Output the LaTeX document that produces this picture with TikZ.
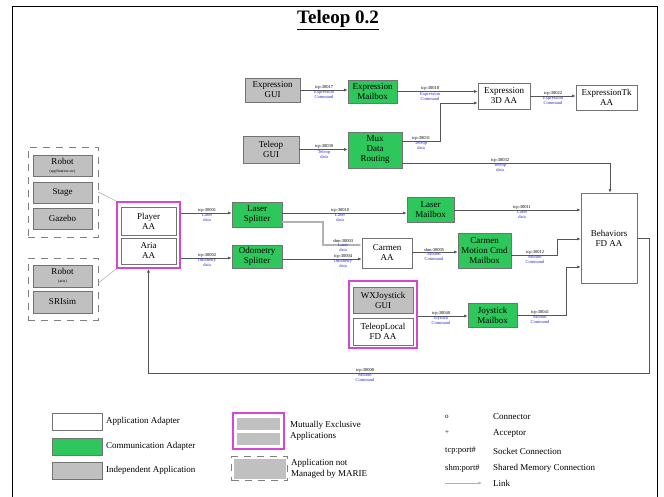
\documentclass[tikz,border=0pt]{standalone}
\usepackage{fontspec}
\setmainfont{Liberation Serif}
\usetikzlibrary{arrows.meta}
\definecolor{cgreen}{RGB}{46,199,92}
\definecolor{igray}{RGB}{192,192,192}
\definecolor{mxmag}{RGB}{214,70,214}
\definecolor{lblue}{RGB}{40,40,210}
\definecolor{lnk}{RGB}{85,85,85}
\newcommand\lnklab[5]{%
  \node[tcpt] (#1t) at (#2,#3) {#4};
  \node[bt] (#1b) at (#2,#3) {#5};}
\begin{document}
\begin{tikzpicture}[x=1pt,y=-1pt,
  box/.style={draw=black!55, line width=0.7pt, align=center,
    font=\fontsize{9}{10}\selectfont, inner sep=1pt},
  aa/.style={box, fill=white},
  ca/.style={box, fill=cgreen},
  ia/.style={box, fill=igray},
  mx/.style={draw=mxmag, line width=2.2pt, fill=white},
  grp/.style={draw=black!50, dash pattern=on 7pt off 6pt, line width=0.6pt},
  link/.style={draw=lnk, line width=0.6pt, -{Latex[length=3.5pt,width=3pt]}},
  shmlink/.style={link, draw=gray!60, line width=1.3pt},
  grline/.style={draw=gray!70, line width=0.5pt},
  tcpt/.style={font=\fontsize{4.5}{5}\selectfont, inner sep=0.6pt, anchor=south},
  bt/.style={font=\fontsize{4.5}{5}\selectfont, text=lblue, inner sep=0.6pt, align=center, anchor=north},
  legt/.style={font=\fontsize{9}{11}\selectfont, align=left, inner sep=0pt},
]
\useasboundingbox (0,0) rectangle (664,497);
\draw[line width=1pt] (12,7) rectangle (657,520);
\node[font=\fontsize{19}{22}\selectfont\bfseries] (title) at (338,20) {\underline{Teleop 0.2}};

% ---------- top rows
\node[ia, minimum width=55pt, minimum height=24pt] (egui) at (272.5,90) {Expression\\GUI};
\node[ca, minimum width=49pt, minimum height=23pt] (emb) at (372.5,91.5) {Expression\\Mailbox};
\node[aa, minimum width=52pt, minimum height=26pt] (e3d) at (504,96) {Expression\\3D AA};
\node[aa, minimum width=61pt, minimum height=25pt] (etk) at (606.5,97.5) {ExpressionTk\\AA};
\node[ia, minimum width=56pt, minimum height=27pt] (tgui) at (271,149.5) {Teleop\\GUI};
\node[ca, minimum width=54pt, minimum height=36pt] (mux) at (375,150) {Mux\\Data\\Routing};

% ---------- left groups
\node[grp, minimum width=70pt, minimum height=90pt] (g1) at (63,192) {};
\node[ia, minimum width=59pt, minimum height=21pt] (rb1) at (62.5,165.5) {Robot\\[-2pt]{\fontsize{4}{4.5}\selectfont (application sw)}};
\node[ia, minimum width=59pt, minimum height=21pt] (stage) at (62.5,192.5) {Stage};
\node[ia, minimum width=59pt, minimum height=21pt] (gazebo) at (62.5,218.5) {Gazebo};
\node[grp, minimum width=70pt, minimum height=62pt] (g2) at (63,289) {};
\node[ia, minimum width=59pt, minimum height=22pt] (rb2) at (62.5,276) {Robot\\[-2pt]{\fontsize{4}{4.5}\selectfont (aria)}};
\node[ia, minimum width=59pt, minimum height=22pt] (sri) at (62.5,302) {SRIsim};

% ---------- Player / Aria
\node[mx, minimum width=63pt, minimum height=66pt] (pa) at (148.5,235) {};
\node[aa, minimum width=55pt, minimum height=28pt] (pl) at (148.5,221) {Player\\AA};
\node[aa, minimum width=55pt, minimum height=26pt] (ar) at (148.5,251) {Aria\\AA};
\coordinate (c21) at (98,283);
\draw[grline] (g1.east) -- (pa.north west);
\draw[grline] (g2.east |- c21) -- (pa.south west);

% ---------- middle
\node[ca, minimum width=50pt, minimum height=25pt] (ls) at (257,214.5) {Laser\\Splitter};
\node[ca, minimum width=50pt, minimum height=23pt] (os) at (257,256.5) {Odometry\\Splitter};
\node[ca, minimum width=47pt, minimum height=25pt] (lm) at (430.5,209.5) {Laser\\Mailbox};
\node[aa, minimum width=50pt, minimum height=30pt] (cam) at (387,253) {Carmen\\AA};
\node[ca, minimum width=53pt, minimum height=35pt] (cm) at (484.5,250.5) {Carmen\\Motion Cmd\\Mailbox};
\node[aa, minimum width=56pt, minimum height=90pt] (beh) at (609,238) {Behaviors\\FD AA};

% ---------- joystick
\node[mx, minimum width=68pt, minimum height=67pt] (wxm) at (383,314.5) {};
\node[ia, minimum width=60pt, minimum height=26pt] (wx) at (383,300) {WXJoystick\\GUI};
\node[aa, minimum width=60pt, minimum height=27pt] (tl) at (383,331.5) {TeleopLocal\\FD AA};
\node[ca, minimum width=49pt, minimum height=24pt] (jm) at (492.5,315) {Joystick\\Mailbox};

% ---------- coordinates
\coordinate (c1) at (440,141);
\coordinate (c2) at (440,103);
\coordinate (c3) at (610,163);
\coordinate (c4) at (0,213);
\coordinate (c5) at (0,258);
\coordinate (c6) at (0,210);
\coordinate (c7) at (0,222);
\coordinate (c8) at (323,222);
\coordinate (c9) at (323,245);
\coordinate (c10) at (0,259);
\coordinate (c11) at (0,252);
\coordinate (c12) at (557,255);
\coordinate (c13) at (557,239);
\coordinate (c14) at (0,316);
\coordinate (c15) at (566,315);
\coordinate (c16) at (566,267);
\coordinate (c18) at (649,373);

% ---------- links
\draw[link] (egui.east) -- (egui.east -| emb.west);
\draw[link] (emb.east) -- (emb.east -| e3d.west);
\draw[link] (e3d.east) -- (e3d.east -| etk.west);
\draw[link] (tgui.east) -- (tgui.east -| mux.west);
\draw[link] (mux.east |- c1) -- (c1) -- (c2) -- (e3d.west |- c2);
\draw[link] (mux.east |- c3) -- (c3) -- (c3 |- beh.north);
\draw[link] (pa.east |- c4) -- (ls.west |- c4);
\draw[link] (pa.east |- c5) -- (os.west |- c5);
\draw[link] (ls.east |- c4) -- (lm.west |- c4);
\draw[link] (lm.east |- c6) -- (beh.west |- c6);
\draw[shmlink] (ls.east |- c7) -- (c8) -- (c9) -- (cam.west |- c9);
\draw[link] (os.east |- c10) -- (cam.west |- c10);
\draw[link] (cam.east |- c11) -- (cm.west |- c11);
\draw[link] (cm.east |- c12) -- (c12) -- (c13) -- (beh.west |- c13);
\draw[link] (wxm.east |- c14) -- (jm.west |- c14);
\draw[link] (jm.east |- c15) -- (c15) -- (c16) -- (beh.west |- c16);
\draw[link] (beh.east) -| (c18) -| (pa.south);

% ---------- link labels
\lnklab{la}{324}{90}{tcp:30017}{Expression\\Command}
\lnklab{lb}{430}{91.5}{tcp:30018}{Expression\\Command}
\lnklab{lc}{553}{96}{tcp:30022}{Expression\\Command}
\lnklab{ld}{324}{149.5}{tcp:30030}{Teleop\\data}
\lnklab{le}{421}{141}{tcp:30031}{Teleop\\data}
\lnklab{lf}{500}{163}{tcp:30032}{Teleop\\data}
\lnklab{lg}{207}{213}{tcp:30001}{Laser\\data}
\lnklab{lh}{207}{258}{tcp:30002}{Odometry\\data}
\lnklab{li}{340}{213}{tcp:30010}{Laser\\data}
\lnklab{lj}{522}{210}{tcp:30011}{Laser\\data}
\lnklab{lk}{343}{243}{shm:30003}{Laser\\data}
\lnklab{ll}{343}{259}{tcp:30004}{Odometry\\data}
\lnklab{lm}{434}{252}{shm:30005}{Motion\\Command}
\lnklab{ln}{535}{255}{tcp:30012}{Motion\\Command}
\lnklab{lo}{441}{316}{tcp:30040}{Joystick\\Command}
\lnklab{lp}{540}{315}{tcp:30041}{Motion\\Command}
\lnklab{lq}{365}{373}{tcp:30000}{Motion\\Command}

% ---------- legend left
\node[aa, minimum width=50pt, minimum height=17pt] (lgaa) at (77,421.5) {};
\node[legt, anchor=west] (lgaat) at (106,421.5) {Application Adapter};
\node[ca, minimum width=50pt, minimum height=17pt] (lgca) at (77,446.5) {};
\node[legt, anchor=west] (lgcat) at (106,446.5) {Communication Adapter};
\node[ia, minimum width=50pt, minimum height=17pt] (lgia) at (77,470.5) {};
\node[legt, anchor=west] (lgiat) at (106,470.5) {Independent Application};

\node[mx, minimum width=51pt, minimum height=36pt] (lgmx) at (258.5,431) {};
\node[ia, draw=none, minimum width=43pt, minimum height=12pt] (lgmx1) at (258.5,423.5) {};
\node[ia, draw=none, minimum width=43pt, minimum height=12pt] (lgmx2) at (258.5,438.5) {};
\node[legt, anchor=west] (lgmxt) at (290,431) {Mutually Exclusive\\Applications};
\node[ia, draw=none, minimum width=52pt, minimum height=20pt] (lgnm) at (259.5,468.5) {};
\node[grp, minimum width=56pt, minimum height=24pt] (lgnmf) at (259.5,468.5) {};
\node[legt, anchor=west] (lgnmt) at (291,468.5) {Application not\\Managed by MARIE};

% ---------- legend right
\node[legt, anchor=west, font=\fontsize{7}{8}\selectfont] (sy1) at (445,417) {o};
\node[legt, anchor=west] (tx1) at (493,417) {Connector};
\node[legt, anchor=west, font=\fontsize{7}{8}\selectfont] (sy2) at (445,433) {+};
\node[legt, anchor=west] (tx2) at (493,433) {Acceptor};
\node[legt, anchor=west, font=\fontsize{8.5}{10}\selectfont] (sy3) at (445,451) {tcp:port\#};
\node[legt, anchor=west] (tx3) at (493,451) {Socket Connection};
\node[legt, anchor=west, font=\fontsize{8.5}{10}\selectfont] (sy4) at (445,468) {shm:port\#};
\node[legt, anchor=west] (tx4) at (493,468) {Shared Memory Connection};
\coordinate (lk1) at (445,483);
\coordinate (lk2) at (482,483);
\draw[link, draw=gray!60] (lk1) -- (lk2);
\node[legt, anchor=west] (tx5) at (493,483) {Link};
\end{tikzpicture}
\end{document}
